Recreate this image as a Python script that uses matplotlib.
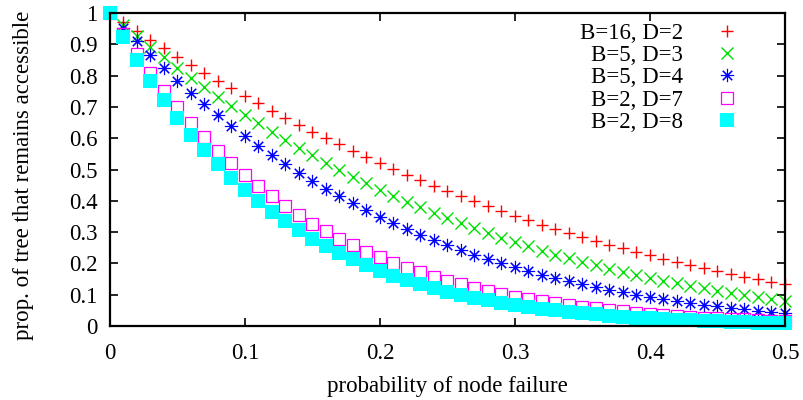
import matplotlib
matplotlib.use("Agg")
import matplotlib.pyplot as plt
from matplotlib.ticker import FuncFormatter

plt.rcParams['font.family'] = ['Liberation Serif', 'DejaVu Serif']
plt.rcParams['font.size'] = 16.5

# probability of node failure (x axis)
failure_prob = [0.00, 0.01, 0.02, 0.03, 0.04, 0.05, 0.06, 0.07, 0.08, 0.09,
                0.10, 0.11, 0.12, 0.13, 0.14, 0.15, 0.16, 0.17, 0.18, 0.19,
                0.20, 0.21, 0.22, 0.23, 0.24, 0.25, 0.26, 0.27, 0.28, 0.29,
                0.30, 0.31, 0.32, 0.33, 0.34, 0.35, 0.36, 0.37, 0.38, 0.39,
                0.40, 0.41, 0.42, 0.43, 0.44, 0.45, 0.46, 0.47, 0.48, 0.49,
                0.50]

# proportion of tree still accessible, one list per tree shape
b16_d2 = [1.000, 0.971, 0.942, 0.915, 0.887, 0.860, 0.834, 0.808, 0.783, 0.759,
          0.734, 0.711, 0.688, 0.665, 0.643, 0.621, 0.600, 0.580, 0.559, 0.540,
          0.521, 0.502, 0.484, 0.466, 0.448, 0.431, 0.415, 0.399, 0.383, 0.368,
          0.353, 0.338, 0.324, 0.311, 0.298, 0.285, 0.272, 0.260, 0.248, 0.237,
          0.226, 0.215, 0.205, 0.195, 0.185, 0.176, 0.167, 0.158, 0.150, 0.142,
          0.134]
b5_d3 = [1.000, 0.963, 0.927, 0.892, 0.858, 0.825, 0.793, 0.762, 0.732, 0.703,
         0.674, 0.647, 0.620, 0.594, 0.569, 0.545, 0.522, 0.499, 0.477, 0.456,
         0.436, 0.416, 0.397, 0.379, 0.361, 0.344, 0.328, 0.312, 0.296, 0.282,
         0.268, 0.254, 0.241, 0.228, 0.216, 0.205, 0.194, 0.183, 0.173, 0.163,
         0.154, 0.145, 0.136, 0.128, 0.121, 0.113, 0.106, 0.099, 0.093, 0.087,
         0.081]
b5_d4 = [1.000, 0.953, 0.909, 0.865, 0.824, 0.784, 0.746, 0.709, 0.674, 0.640,
         0.607, 0.576, 0.546, 0.518, 0.490, 0.464, 0.439, 0.415, 0.392, 0.370,
         0.349, 0.329, 0.310, 0.292, 0.275, 0.259, 0.243, 0.228, 0.214, 0.201,
         0.188, 0.176, 0.164, 0.154, 0.143, 0.134, 0.125, 0.116, 0.108, 0.100,
         0.093, 0.086, 0.080, 0.074, 0.068, 0.063, 0.058, 0.053, 0.049, 0.045,
         0.041]
b2_d7 = [1.000, 0.932, 0.868, 0.808, 0.752, 0.699, 0.650, 0.603, 0.560, 0.520,
         0.482, 0.447, 0.414, 0.383, 0.354, 0.327, 0.303, 0.279, 0.258, 0.238,
         0.219, 0.202, 0.186, 0.171, 0.158, 0.145, 0.133, 0.122, 0.112, 0.103,
         0.094, 0.087, 0.079, 0.073, 0.067, 0.061, 0.056, 0.051, 0.047, 0.043,
         0.039, 0.036, 0.032, 0.030, 0.027, 0.025, 0.023, 0.021, 0.019, 0.017,
         0.016]
b2_d8 = [1.000, 0.923, 0.851, 0.784, 0.722, 0.665, 0.611, 0.562, 0.516, 0.474,
         0.435, 0.398, 0.365, 0.334, 0.306, 0.279, 0.255, 0.233, 0.213, 0.194,
         0.177, 0.161, 0.146, 0.133, 0.121, 0.110, 0.100, 0.091, 0.082, 0.074,
         0.067, 0.061, 0.055, 0.050, 0.045, 0.041, 0.037, 0.033, 0.030, 0.027,
         0.024, 0.022, 0.020, 0.018, 0.016, 0.015, 0.013, 0.012, 0.011, 0.010,
         0.009]

labels = ["B=16, D=2", "B=5, D=3", "B=5, D=4", "B=2, D=7", "B=2, D=8"]

fig = plt.figure(figsize=(8.04, 4.0), dpi=100)
ax = fig.add_axes([110 / 804, 74 / 400, 675 / 804, 313 / 400])

ax.plot(failure_prob, b16_d2, ls="none", marker="+", ms=9, mew=1.0,
        color="#ff0000", clip_on=False, label=labels[0])
ax.plot(failure_prob, b5_d3, ls="none", marker="x", ms=9, mew=1.0,
        color="#00e000", clip_on=False, label=labels[1])
ax.plot(failure_prob, b5_d4, ls="none", marker=(8, 2, 0), ms=9.5, mew=0.8,
        color="#0000ff", clip_on=False, label=labels[2])
ax.plot(failure_prob, b2_d7, ls="none", marker="s", ms=8.6, mew=0.9,
        mfc="none", color="#ff00ff", clip_on=False, label=labels[3])
ax.plot(failure_prob, b2_d8, ls="none", marker="s", ms=9.4, mew=0,
        color="#00ffff", clip_on=False, label=labels[4])

ax.set_xlim(0, 0.5)
ax.set_ylim(0, 1)
ax.set_xticks([0, 0.1, 0.2, 0.3, 0.4, 0.5])
ax.set_yticks([0, 0.1, 0.2, 0.3, 0.4, 0.5, 0.6, 0.7, 0.8, 0.9, 1])
fmt = FuncFormatter(lambda v, pos: f"{v:g}")
ax.xaxis.set_major_formatter(fmt)
ax.yaxis.set_major_formatter(fmt)
ax.tick_params(direction="in", top=True, right=True, length=6, width=1.2)
ax.tick_params(axis="x", pad=12)
ax.tick_params(axis="y", pad=9)
for s in ax.spines.values():
    s.set_linewidth(1.6)

ax.set_xlabel("probability of node failure", labelpad=9)
ax.set_ylabel("prop. of tree that remains accessible")
ax.yaxis.set_label_coords(-0.1126, 0.482)

leg = ax.legend(loc="upper right", bbox_to_anchor=(0.948, 0.968),
                markerfirst=False, frameon=False, borderaxespad=0,
                borderpad=0, handlelength=2.0, handletextpad=0.92,
                labelspacing=0.05)

fig.savefig("out.png", dpi=100)
